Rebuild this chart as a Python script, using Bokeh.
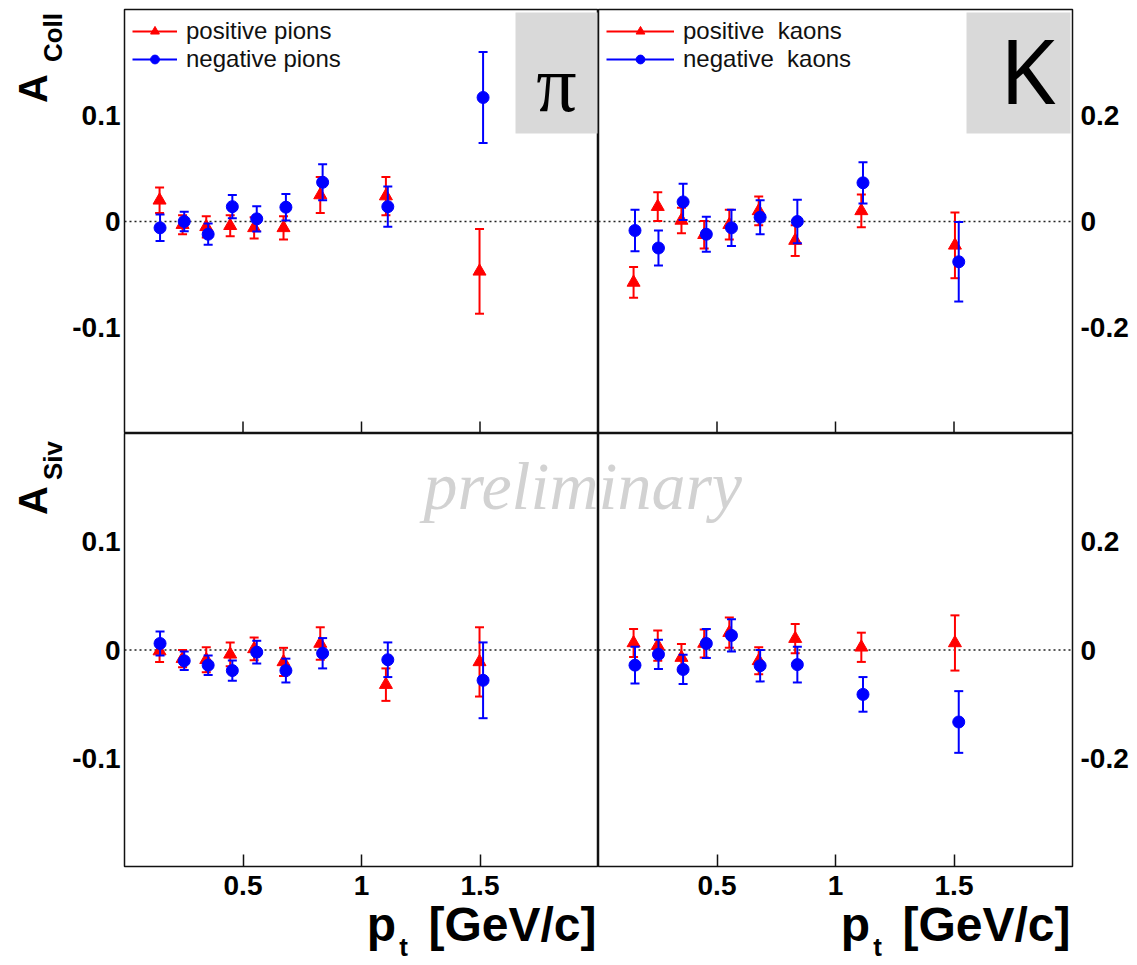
import math
from bokeh.plotting import figure
from bokeh.layouts import gridplot
from bokeh.models import (Range1d, FixedTicker, Span, BoxAnnotation, Label, Legend,
                          LegendItem, ColumnDataSource, CustomJSTickFormatter, LinearAxis)
from bokeh.embed import file_html
from bokeh.resources import INLINE

# ---------------- data ----------------
x_ticks = [0.5, 1.0, 1.5]
pi_y_ticks = [-0.1, 0.0, 0.1]
k_y_ticks = [-0.2, 0.0, 0.2]

# Collins asymmetry, pions
coll_pip_x = [0.148, 0.245, 0.345, 0.446, 0.547, 0.671, 0.826, 1.103, 1.498]
coll_pip_y = [0.020, -0.003, -0.005, -0.004, -0.006, -0.006, 0.025, 0.024, -0.047]
coll_pip_e = [0.012, 0.009, 0.010, 0.010, 0.010, 0.011, 0.017, 0.018, 0.040]
coll_pim_x = [0.150, 0.252, 0.353, 0.455, 0.558, 0.681, 0.836, 1.111, 1.513]
coll_pim_y = [-0.006, 0.000, -0.012, 0.014, 0.0025, 0.0135, 0.037, 0.014, 0.117]
coll_pim_e = [0.0125, 0.0093, 0.010, 0.011, 0.012, 0.0125, 0.017, 0.019, 0.043]

# Collins asymmetry, kaons
coll_kp_x = [0.148, 0.250, 0.350, 0.446, 0.552, 0.676, 0.830, 1.109, 1.504]
coll_kp_y = [-0.115, 0.028, 0.002, -0.025, -0.006, 0.020, -0.036, 0.020, -0.045]
coll_kp_e = [0.029, 0.027, 0.024, 0.026, 0.028, 0.027, 0.029, 0.031, 0.062]
coll_km_x = [0.154, 0.253, 0.357, 0.455, 0.561, 0.682, 0.839, 1.116, 1.520]
coll_km_y = [-0.017, -0.050, 0.037, -0.024, -0.012, 0.008, 0.000, 0.073, -0.076]
coll_km_e = [0.039, 0.033, 0.034, 0.033, 0.034, 0.032, 0.041, 0.039, 0.075]

# Sivers asymmetry, pions
siv_pip_x = coll_pip_x
siv_pip_y = [-0.001, -0.008, -0.009, -0.004, 0.001, -0.011, 0.006, -0.032, -0.011]
siv_pip_e = [0.010, 0.008, 0.0115, 0.011, 0.0105, 0.013, 0.015, 0.015, 0.032]
siv_pim_x = coll_pim_x
siv_pim_y = [0.006, -0.010, -0.014, -0.019, -0.002, -0.019, -0.003, -0.009, -0.028]
siv_pim_e = [0.011, 0.0085, 0.009, 0.0093, 0.0105, 0.011, 0.014, 0.016, 0.035]

# Sivers asymmetry, kaons
siv_kp_x = coll_kp_x
siv_kp_y = [0.013, 0.008, -0.014, 0.012, 0.032, -0.020, 0.021, 0.005, 0.013]
siv_kp_e = [0.026, 0.028, 0.025, 0.026, 0.028, 0.025, 0.027, 0.027, 0.051]
siv_km_x = coll_km_x
siv_km_y = [-0.028, -0.008, -0.036, 0.012, 0.027, -0.029, -0.027, -0.082, -0.133]
siv_km_e = [0.034, 0.027, 0.027, 0.027, 0.030, 0.029, 0.033, 0.032, 0.057]

RED = "#ff0000"
BLUE = "#0000ff"
SANS = "Liberation Sans"

# ---------------- layout geometry (pixels) ----------------
LEFT_M, RIGHT_M, TOP_M, BOT_M = 124, 65, 9, 99
FW = 474          # frame width
FH_TOP, FH_BOT = 424, 433
XR = (0.0, 2.0)
TICK_PX = 12


def px_x(left, gx):
    x0 = LEFT_M if left else 598
    return XR[0] + (gx - x0) / FW * (XR[1] - XR[0])


def px_y(yr, top, gy):
    if top:
        return yr - (gy - TOP_M) / FH_TOP * 2 * yr
    return yr - (gy - (TOP_M + FH_TOP)) / FH_BOT * 2 * yr


def text_axis(p, side, ticks, code, size, standoff, orientation="horizontal"):
    ax = LinearAxis(ticker=FixedTicker(ticks=ticks),
                    formatter=CustomJSTickFormatter(code=code))
    ax.major_tick_line_color = None
    ax.minor_tick_line_color = None
    ax.major_tick_in = 0
    ax.major_tick_out = 0
    ax.minor_tick_in = 0
    ax.minor_tick_out = 0
    ax.axis_line_color = None
    ax.major_label_text_font = SANS
    ax.major_label_text_font_style = "bold"
    ax.major_label_text_font_size = size
    ax.major_label_text_color = "black"
    ax.major_label_standoff = standoff
    ax.major_label_orientation = orientation
    p.add_layout(ax, side)
    return ax


def make_fig(yr, left, top):
    w = FW + (LEFT_M if left else RIGHT_M)
    h = (FH_TOP + TOP_M) if top else (FH_BOT + BOT_M)
    p = figure(width=w, height=h, x_range=Range1d(*XR), y_range=Range1d(-yr, yr),
               output_backend="svg", toolbar_location=None,
               y_axis_location="left" if left else "right",
               x_axis_location=None if top else "below",
               min_border_left=LEFT_M if left else 0,
               min_border_right=0 if left else RIGHT_M,
               min_border_top=TOP_M if top else 0,
               min_border_bottom=0 if top else BOT_M)
    p.grid.visible = False
    p.outline_line_color = "#111111"
    p.outline_line_width = 1.5
    p.background_fill_color = "white"
    p.border_fill_color = "white"

    # y axis: labels only
    ya = p.yaxis[0]
    ya.ticker = FixedTicker(ticks=pi_y_ticks if left else k_y_ticks)
    ya.formatter = CustomJSTickFormatter(code="return tick == 0 ? '0' : tick.toFixed(1)")
    ya.major_tick_line_color = None
    ya.minor_tick_line_color = None
    ya.major_tick_in = 0
    ya.major_tick_out = 0
    ya.minor_tick_in = 0
    ya.minor_tick_out = 0
    ya.axis_line_color = None
    ya.major_label_text_font = SANS
    ya.major_label_text_font_style = "bold"
    ya.major_label_text_font_size = "28px"
    ya.major_label_text_color = "black"
    ya.major_label_standoff = 4 if left else 8
    ya.major_label_orientation = "horizontal"

    if top:
        # inward ticks on the lower frame edge (no labels)
        tick_len = TICK_PX / FH_TOP * 2 * yr
        p.segment(x0=x_ticks, y0=[-yr] * len(x_ticks), x1=x_ticks,
                  y1=[-yr + tick_len] * len(x_ticks), line_color="#111111", line_width=1.5)
    else:
        xa = p.xaxis[0]
        xa.ticker = FixedTicker(ticks=x_ticks)
        xa.formatter = CustomJSTickFormatter(
            code="return Number.isInteger(tick) ? tick.toString() : tick.toFixed(1)")
        xa.major_tick_in = TICK_PX
        xa.major_tick_out = 0
        xa.major_tick_line_color = "#111111"
        xa.major_tick_line_width = 1.5
        xa.minor_tick_line_color = None
        xa.minor_tick_in = 0
        xa.minor_tick_out = 0
        xa.axis_line_color = None
        xa.major_label_text_font = SANS
        xa.major_label_text_font_style = "bold"
        xa.major_label_text_color = "black"
        xa.major_label_text_font_size = "28px"
        xa.major_label_standoff = 9

    p.add_layout(Span(location=0, dimension="width", line_color="#222222",
                      line_dash="2 3", line_width=1.5, level="underlay"))
    return p


def draw_series(p, xs, ys, es, color, marker, size):
    src = ColumnDataSource(dict(x=xs, y=ys,
                                lo=[y - e for y, e in zip(ys, es)],
                                hi=[y + e for y, e in zip(ys, es)]))
    seg = p.segment(x0="x", y0="lo", x1="x", y1="hi", source=src,
                    line_color=color, line_width=2)
    p.scatter(x="x", y="hi", source=src, marker="dash", size=9,
              line_color=color, line_width=2)
    p.scatter(x="x", y="lo", source=src, marker="dash", size=9,
              line_color=color, line_width=2)
    mk = p.scatter(x="x", y="y", source=src, marker=marker, size=size,
                   fill_color=color, line_color=color)
    return seg, mk


def add_legend(p, pos, neg, glyph_w):
    leg = Legend(items=[LegendItem(label=pos[0], renderers=list(pos[1])),
                        LegendItem(label=neg[0], renderers=list(neg[1]))],
                 location="top_left", orientation="vertical",
                 border_line_color=None, background_fill_alpha=0,
                 margin=8, padding=0, spacing=0,
                 glyph_width=glyph_w, glyph_height=22, label_height=22,
                 label_standoff=9, label_text_font=SANS,
                 label_text_font_size="24px", label_text_color="#111111")
    p.add_layout(leg)


def ylabel(p, yr, top, main, sub, main_gy, sub_gy):
    # stacked label-only axes left of the tick labels: subscript then main letter
    ys = px_y(yr, top, sub_gy)
    text_axis(p, "left", [ys], "return '%s'" % sub, "26px", 2, "vertical")
    ym = px_y(yr, top, main_gy)
    text_axis(p, "left", [ym], "return '%s'" % main, "40px", -20, "vertical")


def xlabel(p, left):
    xoff = 0 if left else 474
    x_unit = px_x(left, 598 + xoff - 86)     # centre of "[GeV/c]"
    x_p = px_x(left, 381 + xoff)              # centre of "p"
    x_t = px_x(left, 403 + xoff)              # centre of subscript "t"
    text_axis(p, "below", [x_p, x_unit],
              "return tick < %.3f ? 'p' : '[GeV/c]'" % ((x_p + x_unit) / 2), "48px", 0)
    text_axis(p, "below", [x_t], "return 't'", "26px", -22)


def preliminary(p, left):
    # the watermark straddles the panel divider: "prelim" | "inary"
    p.add_layout(Label(x=XR[1] if left else XR[0],
                       y=px_y(0.2 if left else 0.4, False, 485),
                       text="prelim" if left else "inary",
                       text_align="right" if left else "left",
                       text_baseline="alphabetic", text_font="Liberation Serif",
                       text_font_style="italic", text_font_size="68px",
                       text_color="#d2d2d2", level="underlay"))


def tag_box(p, left, yr, gx0, gx1, gy0, gy1, text, font, size, cx, cy):
    p.add_layout(BoxAnnotation(left=px_x(left, gx0), right=px_x(left, gx1),
                               bottom=px_y(yr, True, gy1), top=px_y(yr, True, gy0),
                               fill_color="#d9d9d9", fill_alpha=1.0, line_color=None))
    p.add_layout(Label(x=px_x(left, cx), y=px_y(yr, True, cy), text=text,
                       text_align="center", text_baseline="middle",
                       text_font=font, text_font_size=size, text_color="black"))


# ---------------- panels ----------------
p_tl = make_fig(0.2, True, True)
p_tr = make_fig(0.4, False, True)
p_bl = make_fig(0.2, True, False)
p_br = make_fig(0.4, False, False)

tag_box(p_tl, True, 0.2, 515, 597, 12, 133, "\u03c0", "Liberation Serif", "80px", 556, 83)
tag_box(p_tr, False, 0.4, 966, 1070, 12, 133, "K", "Noto Sans", "90px", 1027, 68)

r1 = draw_series(p_tl, coll_pip_x, coll_pip_y, coll_pip_e, RED, "triangle", 13)
b1 = draw_series(p_tl, coll_pim_x, coll_pim_y, coll_pim_e, BLUE, "circle", 12)
r2 = draw_series(p_tr, coll_kp_x, coll_kp_y, coll_kp_e, RED, "triangle", 13)
b2 = draw_series(p_tr, coll_km_x, coll_km_y, coll_km_e, BLUE, "circle", 12)
draw_series(p_bl, siv_pip_x, siv_pip_y, siv_pip_e, RED, "triangle", 13)
draw_series(p_bl, siv_pim_x, siv_pim_y, siv_pim_e, BLUE, "circle", 12)
draw_series(p_br, siv_kp_x, siv_kp_y, siv_kp_e, RED, "triangle", 13)
draw_series(p_br, siv_km_x, siv_km_y, siv_km_e, BLUE, "circle", 12)

add_legend(p_tl, ("positive pions", r1), ("negative pions", b1), 45)
add_legend(p_tr, ("positive  kaons", r2), ("negative  kaons", b2), 68)

ylabel(p_tl, 0.2, True, "A", "Coll", 88, 37)
ylabel(p_bl, 0.2, False, "A", "Siv", 500, 460)

xlabel(p_bl, True)
xlabel(p_br, False)
preliminary(p_bl, True)
preliminary(p_br, False)

grid = gridplot([[p_tl, p_tr], [p_bl, p_br]], toolbar_location=None)

with open("out.html", "w") as f:
    f.write(file_html(grid, INLINE))
